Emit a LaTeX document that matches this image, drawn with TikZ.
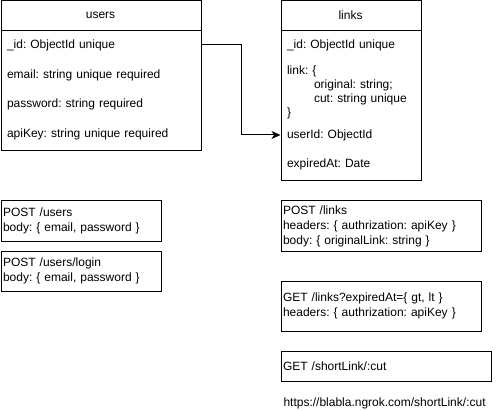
\documentclass[tikz,border=0pt]{standalone}
\usepackage{fontspec}
\setmainfont{Liberation Sans}
\frenchspacing
\usetikzlibrary{arrows.meta}
\tikzset{
  tbl/.style={draw, anchor=north west, inner sep=0pt},
  head/.style={inner sep=0pt},
  urow/.style={anchor=west, inner xsep=6pt, inner ysep=0pt, text width=188pt, align=left},
  lrow/.style={anchor=west, inner xsep=6pt, inner ysep=0pt, text width=128pt, align=left},
  ep/.style={draw, anchor=north west, inner xsep=2pt, inner ysep=0pt, align=left},
  conn/.style={-{Stealth[length=9pt,width=8pt,inset=2.5pt]}}
}
\begin{document}
\begin{tikzpicture}[x=1pt,y=-1pt, font=\fontsize{12}{15}\selectfont\frenchspacing, line width=1pt]
\useasboundingbox (0,0) rectangle (502,411);
% users table
\node[tbl, minimum width=200pt, minimum height=150pt] (users) at (0.5,0.5) {};
\draw (0.5,30.5) -- (200.5,30.5);
\node[head] (usershead) at (100.5,15.5) {users};
\node[urow] (uid) at (0.5,45) {\_id: ObjectId unique};
\node[urow] (uemail) at (0.5,75) {email: string unique required};
\node[urow] (upass) at (0.5,104) {password: string required};
\node[urow] (ukey) at (0.5,134) {apiKey: string unique required};
% links table
\node[tbl, minimum width=140pt, minimum height=180pt] (links) at (280.5,0.5) {};
\draw (280.5,30.5) -- (420.5,30.5);
\node[head] (linkshead) at (350.5,15.5) {links};
\node[lrow] (lid) at (280.5,45) {\_id: ObjectId unique};
\node[lrow, font=\fontsize{12}{14}\selectfont\frenchspacing] (llink) at (280.5,92) {link: \{\\\hspace*{27pt}original: string;\\\hspace*{27pt}cut: string unique\\\}};
\node[lrow] (luid) at (280.5,135) {userId: ObjectId};
\node[lrow] (lexp) at (280.5,164) {expiredAt: Date};
% connector
\draw[conn] (uid.east) -- ++(40,0) |- (luid.west);
% endpoints
\node[ep, text width=156pt, minimum height=40pt] (postusers) at (0.5,200.5) {POST /users\\body: \{ email, password \}};
\node[ep, text width=156pt, minimum height=40pt] (postlogin) at (0.5,250.5) {POST /users/login\\body: \{ email, password \}};
\node[ep, text width=196pt, minimum height=50pt] (postlinks) at (280.5,200.5) {POST /links\\headers: \{ authrization: apiKey \}\\body: \{ originalLink: string \}};
\node[ep, text width=196pt, minimum height=50pt] (getlinks) at (280.5,280.5) {GET /links?expiredAt=\{ gt, lt \}\\headers: \{ authrization: apiKey \}};
\node[ep, text width=206pt, minimum height=30pt] (getshort) at (280.5,350.5) {GET /shortLink/:cut};
\node[anchor=west, inner sep=0pt] (url) at (283,403) {https://blabla.ngrok.com/shortLink/:cut};
\end{tikzpicture}
\end{document}
